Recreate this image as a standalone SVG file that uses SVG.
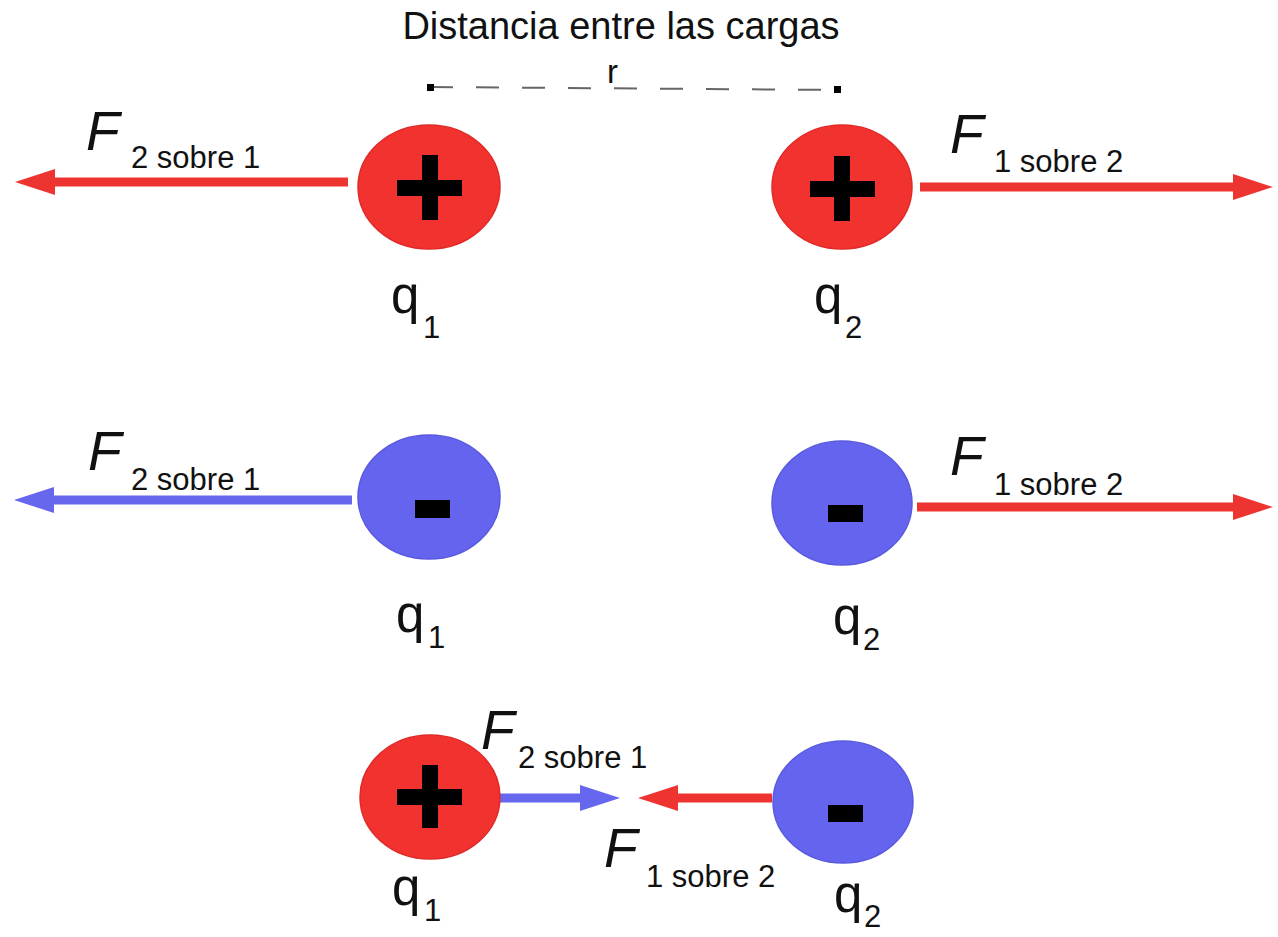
<svg xmlns="http://www.w3.org/2000/svg" width="1278" height="937" viewBox="0 0 1278 937">
<style>
text{font-family:"Liberation Sans",Arial,sans-serif;fill:#111}
.F{font-style:italic;font-size:55px}
.sub{font-size:31px}
.q{font-size:51px}
.qs{font-size:31px}
.red{fill:#f2322e;stroke:#e02a28;stroke-width:1.5}
.blue{fill:#6464ef;stroke:#5a5ae0;stroke-width:1.5}
.sign{fill:#000}
.ar{stroke:#ee3431;stroke-width:9;fill:none}
.ab{stroke:#6666ee;stroke-width:9;fill:none}
.dash{stroke:#666;stroke-width:2;stroke-dasharray:23 23;fill:none}
</style>
<defs>
<marker id="hr" markerUnits="userSpaceOnUse" markerWidth="40" markerHeight="26" refX="2" refY="13" orient="auto"><path d="M0,0 L40,13 L0,26 z" fill="#ee3431"/></marker>
<marker id="hb" markerUnits="userSpaceOnUse" markerWidth="40" markerHeight="26" refX="2" refY="13" orient="auto"><path d="M0,0 L40,13 L0,26 z" fill="#6666ee"/></marker>
</defs>
<rect width="1278" height="937" fill="#fff"/>

<g id="title">
<text x="621" y="39" font-size="38" text-anchor="middle">Distancia entre las cargas</text>
<text x="607" y="83" font-size="33">r</text>
</g>

<g id="connectors">
<path class="dash" d="M430,87 L838,90"/>
<rect x="427" y="84" width="7" height="7" fill="#000"/>
<rect x="834" y="86" width="7" height="7" fill="#000"/>
<line class="ar" x1="348" y1="182" x2="53" y2="182" marker-end="url(#hr)"/>
<line class="ar" x1="920" y1="187" x2="1235" y2="187" marker-end="url(#hr)"/>
<line class="ab" x1="352" y1="500" x2="52" y2="500" marker-end="url(#hb)"/>
<line class="ar" x1="917" y1="507" x2="1235" y2="507" marker-end="url(#hr)"/>
<line class="ab" x1="499" y1="798" x2="582" y2="798" marker-end="url(#hb)"/>
<line class="ar" x1="772" y1="798" x2="676" y2="798" marker-end="url(#hr)"/>
</g>

<g id="row1-q1">
<ellipse class="red" cx="429" cy="187" rx="71" ry="62"/>
<rect class="sign" x="397" y="180" width="65" height="16"/>
<rect class="sign" x="422" y="155" width="16" height="65"/>
<text class="q" x="391" y="313">q</text><text class="qs" x="423" y="338">1</text>
</g>
<g id="row1-q2">
<ellipse class="red" cx="842" cy="187" rx="70" ry="62"/>
<rect class="sign" x="810" y="181" width="65" height="16"/>
<rect class="sign" x="834" y="156" width="16" height="65"/>
<text class="q" x="814" y="313">q</text><text class="qs" x="845" y="338">2</text>
</g>
<g id="row1-labels">
<text class="F" x="86" y="150">F</text><text class="sub" x="131" y="168">2 sobre 1</text>
<text class="F" x="950" y="153">F</text><text class="sub" x="994" y="172">1 sobre 2</text>
</g>

<g id="row2-q1">
<ellipse class="blue" cx="429" cy="497" rx="71" ry="62"/>
<rect class="sign" x="415" y="500" width="35" height="18"/>
<text class="q" x="396" y="632">q</text><text class="qs" x="428" y="648">1</text>
</g>
<g id="row2-q2">
<ellipse class="blue" cx="842" cy="503" rx="70" ry="62"/>
<rect class="sign" x="828" y="505" width="35" height="17"/>
<text class="q" x="833" y="634">q</text><text class="qs" x="863" y="650">2</text>
</g>
<g id="row2-labels">
<text class="F" x="88" y="470">F</text><text class="sub" x="131" y="490">2 sobre 1</text>
<text class="F" x="950" y="475">F</text><text class="sub" x="994" y="495">1 sobre 2</text>
</g>

<g id="row3-q1">
<ellipse class="red" cx="430" cy="797" rx="70" ry="62"/>
<rect class="sign" x="397" y="789" width="65" height="16"/>
<rect class="sign" x="422" y="765" width="16" height="63"/>
<text class="q" x="392" y="905">q</text><text class="qs" x="424" y="921">1</text>
</g>
<g id="row3-q2">
<ellipse class="blue" cx="843" cy="802" rx="70" ry="61"/>
<rect class="sign" x="828" y="805" width="35" height="17"/>
<text class="q" x="834" y="912">q</text><text class="qs" x="864" y="927">2</text>
</g>
<g id="row3-labels">
<text class="F" x="481" y="749">F</text><text class="sub" x="518" y="768">2 sobre 1</text>
<text class="F" x="604" y="867">F</text><text class="sub" x="646" y="887">1 sobre 2</text>
</g>
</svg>
